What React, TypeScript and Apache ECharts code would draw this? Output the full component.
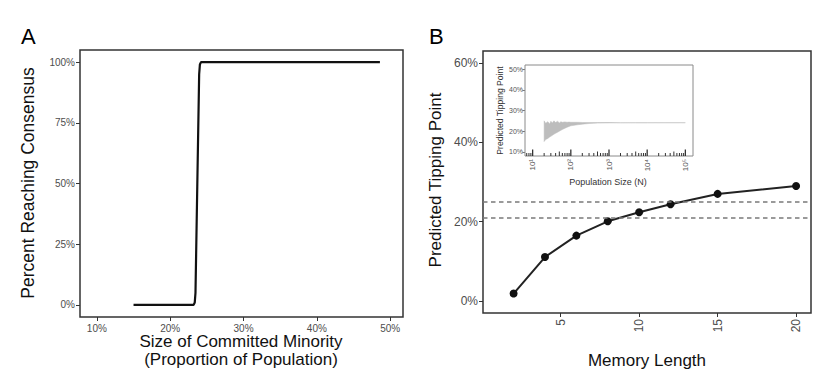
import React, { useEffect, useRef } from "react";
import * as echarts from "echarts";

// Panel A: percent of populations reaching consensus vs committed minority size (%)
const minoritySize = [15, 23.2, 23.35, 23.45, 23.95, 24.05, 24.2, 48.6];
const percentConsensus = [0, 0, 1, 5, 95, 99, 100, 100];
const panelAXTicks = [10, 20, 30, 40, 50];
const panelAYTicks = [0, 25, 50, 75, 100];

// Panel B: predicted tipping point vs memory length
const memoryLength = [2, 4, 6, 8, 10, 12, 15, 20];
const tippingPoint = [1.9, 11.1, 16.5, 20.1, 22.4, 24.4, 27.0, 29.0];
const thresholdLines = [25, 21];
const panelBXTicks = [5, 10, 15, 20];
const panelBYTicks = [0, 20, 40, 60];

// Inset: predicted tipping point range vs population size (N)
const bandN = [20, 22, 25, 28, 30, 33, 36, 40, 45, 50, 55, 60, 70, 80, 90, 100, 150, 200, 300, 500, 1000, 2000, 5000, 10000, 100000];
const bandHigh = [25, 23.8, 24.6, 23.5, 24.8, 24.0, 25.0, 24.2, 24.8, 24.0, 24.6, 24.3, 24.5, 24.3, 24.4, 24.3, 24.3, 24.2, 24.2, 24.2, 24.2, 24.1, 24.1, 24.1, 24.1];
const bandLow = [15, 16, 16.5, 17.2, 17.5, 18, 18.5, 19, 19.5, 20, 20.4, 20.8, 21.4, 21.9, 22.3, 22.6, 23.1, 23.4, 23.7, 23.9, 24.0, 24.05, 24.08, 24.08, 24.1];
const insetYTicks = [10, 20, 30, 40, 50];
const insetDecades = [0, 1, 2, 3, 4, 5];
const logMultipliers = [1, 2, 3, 4, 5, 6, 7, 8, 9];

const SUP: Record<string, string> = { "0": "⁰", "1": "¹", "2": "²", "3": "³", "4": "⁴", "5": "⁵", "6": "⁶" };

const FONT = "Liberation Sans, Arial, sans-serif";
const LABEL_GREY = "#4d4d4d";
const FRAME = "#333333";

export default function App() {
  const ref = useRef<HTMLDivElement>(null);

  useEffect(() => {
    document.body.style.margin = "0";
    if (!ref.current) return;
    const chart = echarts.init(ref.current, undefined, { renderer: "svg" });

    const insetMin = Math.pow(10, 0.8);
    const insetMax = Math.pow(10, 5.2);
    const logTicks: number[][] = [];
    insetDecades.forEach((d) => {
      logMultipliers.forEach((m) => {
        const v = m * Math.pow(10, d);
        if (v >= insetMin && v <= insetMax) logTicks.push([v, m]);
      });
    });

    const noLine = { show: false, onZero: false };

    const option: any = {
      animation: false,
      textStyle: { fontFamily: FONT },
      grid: [
        { left: 80, top: 50, width: 323, height: 267, show: true, borderColor: FRAME, borderWidth: 1.5, backgroundColor: "transparent" },
        { left: 483, top: 51, width: 328, height: 262, show: true, borderColor: FRAME, borderWidth: 1.5, backgroundColor: "transparent" },
        { left: 525, top: 65, width: 168, height: 91, show: true, borderColor: "#8a8a8a", borderWidth: 1, backgroundColor: "#ffffff", z: 3 },
      ],
      xAxis: [
        {
          gridIndex: 0, type: "value", min: 7.7, max: 51.75, position: "bottom",
          axisLine: noLine,
          splitLine: { show: false },
          axisTick: { show: true, customValues: panelAXTicks, length: 4, lineStyle: { color: FRAME, width: 1 } },
          axisLabel: { customValues: panelAXTicks, formatter: "{value}%", color: LABEL_GREY, fontSize: 10, margin: 6, fontFamily: FONT },
        },
        {
          gridIndex: 1, type: "value", min: 0.05, max: 20.95, position: "bottom",
          axisLine: noLine,
          splitLine: { show: false },
          axisTick: { show: true, customValues: panelBXTicks, length: 4, lineStyle: { color: FRAME, width: 1 } },
          axisLabel: { customValues: panelBXTicks, rotate: 90, color: LABEL_GREY, fontSize: 12, margin: 6, fontFamily: FONT },
        },
        {
          gridIndex: 2, type: "log", logBase: 10, min: insetMin, max: insetMax, position: "bottom",
          axisLine: noLine,
          splitLine: { show: false },
          axisTick: { show: false },
          axisLabel: {
            rotate: 90, color: "#555555", fontSize: 8, margin: 3, fontFamily: FONT,
            showMinLabel: false, showMaxLabel: false,
            formatter: (v: number) => {
              const e = Math.round(Math.log10(v));
              return "10" + String(e).split("").map((c) => SUP[c] || c).join("");
            },
          },
        },
      ],
      yAxis: [
        {
          gridIndex: 0, type: "value", min: -5, max: 105, position: "left",
          axisLine: noLine,
          splitLine: { show: false },
          axisTick: { show: true, customValues: panelAYTicks, length: 4, lineStyle: { color: FRAME, width: 1 } },
          axisLabel: { customValues: panelAYTicks, formatter: "{value}%", color: LABEL_GREY, fontSize: 10, margin: 5, fontFamily: FONT },
        },
        {
          gridIndex: 1, type: "value", min: -3, max: 63, position: "left",
          axisLine: noLine,
          splitLine: { show: false },
          axisTick: { show: true, customValues: panelBYTicks, length: 4, lineStyle: { color: FRAME, width: 1 } },
          axisLabel: { customValues: panelBYTicks, formatter: "{value}%", color: LABEL_GREY, fontSize: 12, margin: 5, fontFamily: FONT },
        },
        {
          gridIndex: 2, type: "value", min: 8, max: 52, position: "left",
          axisLine: noLine,
          splitLine: { show: false },
          axisTick: { show: true, customValues: insetYTicks, length: 2.5, lineStyle: { color: "#555555", width: 0.8 } },
          axisLabel: { customValues: insetYTicks, formatter: "{value}%", color: "#555555", fontSize: 7, margin: 2, fontFamily: FONT },
        },
      ],
      series: [
        {
          type: "line",
          xAxisIndex: 0, yAxisIndex: 0,
          data: minoritySize.map((x, i) => [x, percentConsensus[i]]),
          showSymbol: false, symbol: "none",
          lineStyle: { color: "#111111", width: 2.2 },
        },
        {
          type: "line",
          xAxisIndex: 1, yAxisIndex: 1,
          data: memoryLength.map((x, i) => [x, tippingPoint[i]]),
          symbol: "circle", symbolSize: 8,
          itemStyle: { color: "#111111" },
          lineStyle: { color: "#222222", width: 2 },
          markLine: {
            silent: true,
            symbol: ["none", "none"],
            label: { show: false },
            lineStyle: { color: "#7a7a7a", width: 1.6, type: [4.5, 3.5] },
            data: thresholdLines.map((v) => ({ yAxis: v })),
          },
        },
        {
          type: "custom",
          xAxisIndex: 2, yAxisIndex: 2,
          z: 4,
          data: bandN.map((n, i) => [n, bandLow[i], bandHigh[i]]),
          renderItem: (params: any, api: any) => {
            if (params.dataIndex !== 0) return null;
            const pts: number[][] = [];
            for (let i = 0; i < bandN.length; i++) pts.push(api.coord([bandN[i], bandHigh[i]]));
            for (let i = bandN.length - 1; i >= 0; i--) pts.push(api.coord([bandN[i], bandLow[i]]));
            return { type: "polygon", shape: { points: pts }, style: { fill: "#bdbdbd", stroke: "#bdbdbd", lineWidth: 0.5 } };
          },
        },
        {
          type: "custom",
          xAxisIndex: 2, yAxisIndex: 2,
          z: 4,
          data: logTicks,
          renderItem: (params: any, api: any) => {
            const v = api.value(0);
            const m = api.value(1);
            const p = api.coord([v, 8]);
            const len = m === 1 ? 6.5 : m === 5 ? 4.5 : 3;
            return {
              type: "line",
              shape: { x1: p[0], y1: p[1], x2: p[0], y2: p[1] - len },
              style: { stroke: "#333333", lineWidth: m === 1 ? 1.3 : 1 },
            };
          },
        },
      ],
      graphic: [
        { type: "text", x: 21, y: 36, style: { text: "A", fill: "#000", font: `22px ${FONT}`, textVerticalAlign: "middle" } },
        { type: "text", x: 429, y: 36, style: { text: "B", fill: "#000", font: `22px ${FONT}`, textVerticalAlign: "middle" } },
        {
          type: "text", x: 28, y: 183, rotation: Math.PI / 2,
          style: { text: "Percent Reaching Consensus", font: `17.5px ${FONT}`, fill: "#111", textAlign: "center", textVerticalAlign: "middle" },
        },
        {
          type: "text", x: 241, y: 341.5,
          style: { text: "Size of Committed Minority", font: `17px ${FONT}`, fill: "#111", textAlign: "center", textVerticalAlign: "middle" },
        },
        {
          type: "text", x: 241, y: 359,
          style: { text: "(Proportion of Population)", font: `17px ${FONT}`, fill: "#111", textAlign: "center", textVerticalAlign: "middle" },
        },
        {
          type: "text", x: 435, y: 180, rotation: Math.PI / 2,
          style: { text: "Predicted Tipping Point", font: `17px ${FONT}`, fill: "#111", textAlign: "center", textVerticalAlign: "middle" },
        },
        {
          type: "text", x: 647, y: 360,
          style: { text: "Memory Length", font: `17px ${FONT}`, fill: "#111", textAlign: "center", textVerticalAlign: "middle" },
        },
        {
          type: "text", x: 500, y: 110.5, rotation: Math.PI / 2, z: 10,
          style: { text: "Predicted Tipping Point", font: `8.6px ${FONT}`, fill: "#333", textAlign: "center", textVerticalAlign: "middle" },
        },
        {
          type: "text", x: 608, y: 181.5, z: 10,
          style: { text: "Population Size (N)", font: `9px ${FONT}`, fill: "#333", textAlign: "center", textVerticalAlign: "middle" },
        },
      ],
    };

    chart.setOption(option);
    return () => {
      chart.dispose();
    };
  }, []);

  return <div ref={ref} style={{ width: 830, height: 390 }} />;
}
